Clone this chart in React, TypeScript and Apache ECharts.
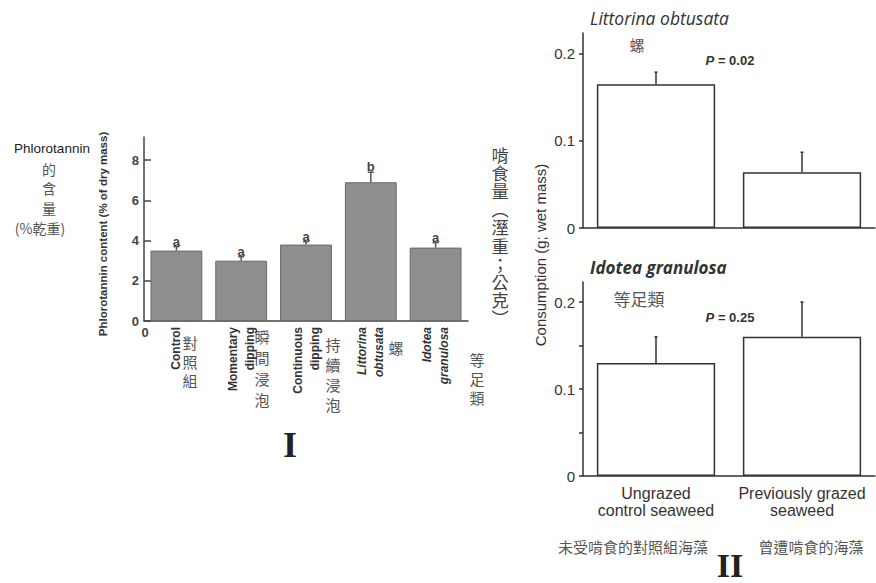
import React, { useEffect, useRef } from "react";
import * as echarts from "echarts";

// ---- Panel I data ----
const catI = ["Control", "Momentary\ndipping", "Continuous\ndipping", "Littorina\nobtusata", "Idotea\ngranulosa"];
const italicI = [false, false, false, true, true];
const meanI = [3.5, 3.0, 3.8, 6.9, 3.65];
const upperI = [3.7, 3.2, 3.95, 7.4, 3.9];
const letterI = ["a", "a", "a", "b", "a"];
const ticksI = [0, 2, 4, 6, 8];

// ---- Panel II data ----
const catII = ["Ungrazed\ncontrol seaweed", "Previously grazed\nseaweed"];
const meanLit = [0.165, 0.064];
const upperLit = [0.179, 0.087];
const meanIdo = [0.13, 0.16];
const upperIdo = [0.16, 0.2];
const ticksII = [0, 0.1, 0.2];
const ticksIIminor = [0, 0.05, 0.1, 0.15, 0.2];

const SANS = '"Liberation Sans", Arial, sans-serif';
const CJK = '"Noto Sans CJK TC", "Noto Sans CJK SC", sans-serif';
const SERIF = '"Liberation Serif", "DejaVu Serif", serif';

function errRender(capW: number, color: string, letters?: string[]) {
  return (params: any, api: any) => {
    const i = api.value(0);
    const base = api.coord([i, api.value(1)]);
    const top = api.coord([i, api.value(2)]);
    const children: any[] = [
      { type: "line", shape: { x1: base[0], y1: base[1], x2: top[0], y2: top[1] }, style: { stroke: color, lineWidth: 1.5 } },
      { type: "line", shape: { x1: top[0] - capW / 2, y1: top[1], x2: top[0] + capW / 2, y2: top[1] }, style: { stroke: color, lineWidth: 1.5 } },
    ];
    if (letters) {
      children.push({
        type: "text",
        x: top[0],
        y: top[1] + 1,
        style: {
          text: letters[params.dataIndex],
          align: "center",
          verticalAlign: "bottom",
          fontSize: 13,
          fontWeight: "bold",
          fontFamily: SANS,
          fill: "#444",
        },
      });
    }
    return { type: "group", children };
  };
}

// vertical CJK text: one text element per character
function vtext(text: string, x: number, yTop: number, step: number, size: number, color = "#555", scale = 1) {
  return {
    type: "group",
    children: Array.from(text).map((ch, k) => ({
      type: "text",
      x,
      y: yTop + k * step + step / 2,
      scaleX: scale,
      scaleY: scale,
      style: {
        text: ch,
        align: "center",
        verticalAlign: "middle",
        fontSize: size,
        lineHeight: size,
        fontFamily: CJK,
        fill: color,
      },
    })),
  };
}

function htext(text: string, x: number, y: number, size: number, opts: any = {}) {
  return {
    type: "text",
    x,
    y,
    rotation: opts.rotation || 0,
    style: {
      text,
      align: opts.align || "center",
      verticalAlign: opts.valign || "middle",
      fontSize: size,
      lineHeight: opts.lineHeight,
      fontWeight: opts.weight || "normal",
      fontStyle: opts.style || "normal",
      fontFamily: opts.family || SANS,
      fill: opts.color || "#333",
      rich: opts.rich,
    },
  };
}

export default function App() {
  const ref = useRef<HTMLDivElement>(null);
  useEffect(() => {
    const chart = echarts.init(ref.current!, null, { renderer: "svg" });
    const axisLineI = { lineStyle: { color: "#444", width: 1.5 } };
    const axisLineII = { lineStyle: { color: "#333", width: 1.5 } };
    const option: any = {
      animation: false,
      backgroundColor: "#fff",
      grid: [
        { left: 144, top: 137, width: 324, height: 184, outerBoundsMode: "none" },
        { left: 583, top: 33, width: 292, height: 195, outerBoundsMode: "none" },
        { left: 583, top: 282, width: 292, height: 194, outerBoundsMode: "none" },
      ],
      xAxis: [
        {
          gridIndex: 0,
          type: "category",
          data: catI,
          axisLine: axisLineI,
          axisTick: { inside: true, alignWithLabel: true, length: 6, lineStyle: { color: "#444", width: 1.5 } },
          axisLabel: {
            rotate: 90,
            margin: 6,
            interval: 0,
            color: "#333",
            fontSize: 12,
            fontWeight: "bold",
            fontFamily: SANS,
            lineHeight: 17,
            formatter: (v: string, idx: number) =>
              v
                .split("\n")
                .map((s) => `{${italicI[idx] ? "i" : "n"}|${s}}`)
                .join("\n"),
            rich: {
              n: { fontSize: 12, fontWeight: "bold", fontFamily: SANS, color: "#333", lineHeight: 17 },
              i: { fontSize: 12, fontWeight: "bold", fontStyle: "italic", fontFamily: SANS, color: "#333", lineHeight: 17 },
            },
          },
        },
        {
          gridIndex: 1,
          type: "category",
          data: catII,
          axisLine: axisLineII,
          axisTick: { alignWithLabel: true, length: 4, lineStyle: { color: "#333", width: 1.5 } },
          axisLabel: { show: false },
        },
        {
          gridIndex: 2,
          type: "category",
          data: catII,
          axisLine: axisLineII,
          axisTick: { alignWithLabel: true, length: 4, lineStyle: { color: "#333", width: 1.5 } },
          axisLabel: { margin: 9, fontSize: 16, lineHeight: 17, color: "#333", fontFamily: SANS, interval: 0 },
        },
      ],
      yAxis: [
        {
          gridIndex: 0,
          type: "value",
          min: 0,
          max: 9.15,
          splitLine: { show: false },
          axisLine: { show: true, ...axisLineI },
          axisTick: { show: true, inside: true, length: 7, customValues: ticksI, lineStyle: { color: "#444", width: 1.5 } },
          axisLabel: { customValues: ticksI, margin: 5, fontSize: 13, fontWeight: "bold", color: "#444", fontFamily: SANS },
        },
        {
          gridIndex: 1,
          type: "value",
          min: 0,
          max: 0.224,
          splitLine: { show: false },
          axisLine: { show: true, ...axisLineII },
          axisTick: { show: true, length: 4, customValues: ticksII, lineStyle: { color: "#333", width: 1.5 } },
          axisLabel: {
            customValues: ticksII,
            margin: 8,
            fontSize: 15,
            color: "#333",
            fontFamily: SANS,
            formatter: (v: number) => (v === 0 ? "0" : String(v)),
          },
        },
        {
          gridIndex: 2,
          type: "value",
          min: 0,
          max: 0.223,
          splitLine: { show: false },
          axisLine: { show: true, ...axisLineII },
          axisTick: { show: true, length: 4, customValues: ticksIIminor, lineStyle: { color: "#333", width: 1.5 } },
          axisLabel: {
            customValues: ticksII,
            margin: 8,
            fontSize: 15,
            color: "#333",
            fontFamily: SANS,
            formatter: (v: number) => (v === 0 ? "0" : String(v)),
          },
        },
      ],
      series: [
        {
          type: "bar",
          xAxisIndex: 0,
          yAxisIndex: 0,
          data: meanI,
          barCategoryGap: "20%",
          itemStyle: { color: "#8e8e8e", borderColor: "#6a6a6a", borderWidth: 1 },
          z: 2,
        },
        {
          type: "custom",
          xAxisIndex: 0,
          yAxisIndex: 0,
          data: catI.map((_, i) => [i, meanI[i], upperI[i]]),
          renderItem: errRender(6, "#555", letterI),
          z: 5,
        },
        {
          type: "bar",
          xAxisIndex: 1,
          yAxisIndex: 1,
          data: meanLit,
          barCategoryGap: "19%",
          itemStyle: { color: "#fff", borderColor: "#333", borderWidth: 1.5 },
          z: 2,
        },
        {
          type: "custom",
          xAxisIndex: 1,
          yAxisIndex: 1,
          data: catII.map((_, i) => [i, meanLit[i], upperLit[i]]),
          renderItem: errRender(3, "#333"),
          z: 5,
        },
        {
          type: "bar",
          xAxisIndex: 2,
          yAxisIndex: 2,
          data: meanIdo,
          barCategoryGap: "19%",
          itemStyle: { color: "#fff", borderColor: "#333", borderWidth: 1.5 },
          z: 2,
        },
        {
          type: "custom",
          xAxisIndex: 2,
          yAxisIndex: 2,
          data: catII.map((_, i) => [i, meanIdo[i], upperIdo[i]]),
          renderItem: errRender(3, "#333"),
          z: 5,
        },
      ],
      graphic: [
        // Panel I left annotation
        htext("Phlorotannin", 52, 148, 13.5, { color: "#222" }),
        vtext("的含量", 49, 159, 19.5, 14),
        htext("(%乾重)", 40, 228, 14, { family: CJK, color: "#555" }),
        // Panel I y-axis title
        htext("Phlorotannin content (% of dry mass)", 103, 234, 11.5, { rotation: Math.PI / 2, weight: "bold", color: "#333" }),
        // origin "0" under x-axis
        htext("0", 145, 332, 13, { weight: "bold", color: "#444" }),
        // Chinese category notes
        vtext("對照組", 190, 333, 19, 15),
        vtext("瞬間浸泡", 262, 326, 21, 15),
        vtext("持續浸泡", 333, 334, 20, 15),
        vtext("螺", 396, 338, 19, 15),
        vtext("等足類", 477, 350, 19, 15),
        htext("I", 290, 445, 36, { family: SERIF, weight: "bold", color: "#222" }),
        // vertical Chinese label between panels
        vtext("啃食量︵溼重；公克︶", 500, 145, 18.2, 15, "#444", 1.15),
        // Panel II
        htext("Consumption (g; wet mass)", 540, 255, 15, { rotation: Math.PI / 2, color: "#333" }),
        htext("Littorina obtusata", 590, 18, 17.5, { align: "left", style: "italic", family: '"Open Sans", sans-serif', color: "#333" }),
        htext("螺", 637, 44, 15, { family: CJK, color: "#555" }),
        htext("{p|P} = 0.02", 730, 60, 13, {
          weight: "bold",
          color: "#333",
          rich: { p: { fontStyle: "italic", fontWeight: "bold", fontSize: 13, fontFamily: SANS, fill: "#333" } },
        }),
        htext("Idotea granulosa", 590, 267, 17, { align: "left", style: "italic", weight: "bold", family: '"Open Sans", sans-serif', color: "#333" }),
        htext("等足類", 639, 298, 17, { family: CJK, color: "#555" }),
        htext("{p|P} = 0.25", 730, 317, 13, {
          weight: "bold",
          color: "#333",
          rich: { p: { fontStyle: "italic", fontWeight: "bold", fontSize: 13, fontFamily: SANS, fill: "#333" } },
        }),
        htext("未受啃食的對照組海藻", 633, 546, 15, { family: CJK, color: "#555" }),
        htext("曾遭啃食的海藻", 811, 546, 15, { family: CJK, color: "#555" }),
        htext("II", 730, 582, 34, { family: SERIF, weight: "bold", color: "#222", valign: "bottom", lineHeight: 34 }),
      ],
    };
    chart.setOption(option);
    return () => chart.dispose();
  }, []);
  return (
    <div
      ref={ref}
      style={{ position: "absolute", left: 0, top: 0, width: 876, height: 583, background: "#fff" }}
    />
  );
}
